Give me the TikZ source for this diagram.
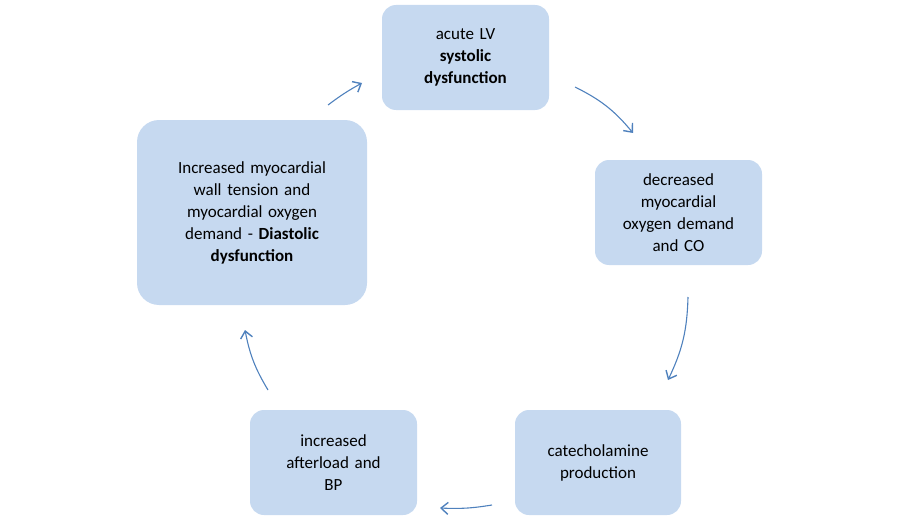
\documentclass[tikz,border=0pt]{standalone}
\usepackage{fontspec}
\setmainfont{Carlito}
\usetikzlibrary{arrows.meta}
\definecolor{boxfill}{HTML}{C6D9F0}
\definecolor{arr}{HTML}{4F81BD}
\begin{document}
\begin{tikzpicture}[x=1pt,y=-1pt,
  box/.style={fill=boxfill,draw=none,rounded corners=14pt,align=center,
    font=\fontsize{17}{22}\selectfont,inner sep=2pt},
  arrw/.style={draw=arr,line width=1.1pt,-{Straight Barb[length=7pt,width=12pt,line width=1.4pt]}}]
\useasboundingbox (0,0) rectangle (900,527);
\node[box,minimum width=167pt,minimum height=105pt,text width=150pt] (a) at (465.5,57.5) {acute LV\\\textbf{systolic}\\\textbf{dysfunction}};
\node[box,minimum width=167pt,minimum height=105pt,text width=150pt] (b) at (678.5,212.5) {decreased\\myocardial\\oxygen demand\\and CO};
\node[box,minimum width=166pt,minimum height=105pt,text width=150pt] (c) at (598,462.5) {catecholamine\\production};
\node[box,minimum width=167pt,minimum height=105pt,text width=150pt] (d) at (333.5,462.5) {increased\\afterload and\\BP};
\node[box,minimum width=230pt,minimum height=185pt,text width=220pt,rounded corners=22pt] (e) at (252,212.5) {Increased myocardial\\wall tension and\\myocardial oxygen\\demand - \textbf{Diastolic}\\\textbf{dysfunction}};
\coordinate (a1) at (575,87); \coordinate (a2) at (633,133);
\coordinate (b1) at (688,297); \coordinate (b2) at (668,380);
\coordinate (c1) at (492,505); \coordinate (c2) at (440,508);
\coordinate (d1) at (268,390); \coordinate (d2) at (245,330);
\coordinate (e1) at (328,105); \coordinate (e2) at (362,83);
\draw[arrw] (a1) to[bend left=12] (a2);
\draw[arrw] (b1) to[bend left=12] (b2);
\draw[arrw] (c1) to[bend left=6] (c2);
\draw[arrw] (d1) to[bend left=10] (d2);
\draw[arrw] (e1) to[bend left=4] (e2);
\end{tikzpicture}
\end{document}
